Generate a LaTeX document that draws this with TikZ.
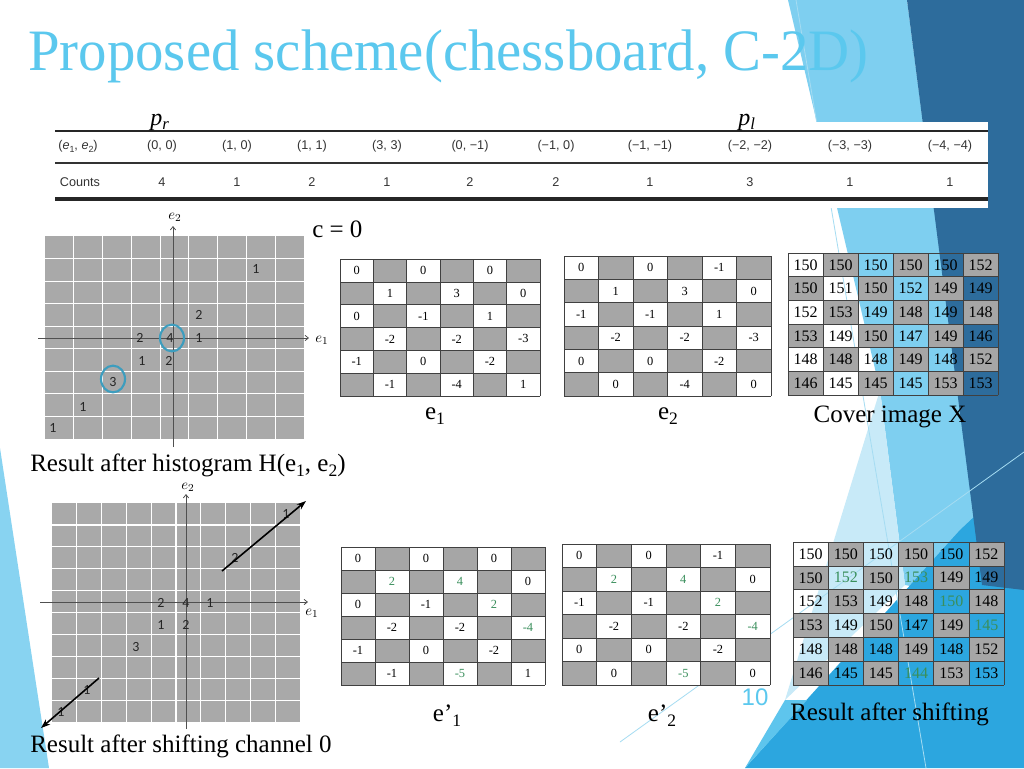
\documentclass[tikz,border=0pt]{standalone}
\usepackage{fontspec}
\setmainfont{Liberation Serif}
\newfontfamily\calib{Carlito}
\newfontfamily\arl{Liberation Sans}
\usetikzlibrary{arrows.meta,shapes.geometric}
\definecolor{ttl}{HTML}{5BC8EE}
\definecolor{cellgray}{HTML}{A6A6A6}
\definecolor{histgray}{HTML}{A9A9A9}
\definecolor{gr}{HTML}{3A8F5C}
\definecolor{circ}{HTML}{3D9DBE}
\definecolor{bgL}{HTML}{7ECFF0}
\definecolor{bgVL}{HTML}{C8EAF8}
\definecolor{bgM}{HTML}{2CA6DF}
\definecolor{bgLtwo}{HTML}{5EC5ED}
\definecolor{bgD}{HTML}{2D6C9C}
\definecolor{bgS}{HTML}{88D3F1}
\definecolor{bgLine}{HTML}{A5DCF2}
\definecolor{tabtxt}{HTML}{333333}
\definecolor{axc}{HTML}{505050}
\newcommand\sbs[1]{\raisebox{-0.45ex}{\scalebox{0.7}{#1}}}
\newcommand\G[1]{\textcolor{gr}{#1}}
\tikzset{
  gline/.style={draw=black!75,line width=0.5pt},
  enum/.style={font=\fontsize{9.3}{9.3}\selectfont,inner sep=0pt},
  xnum/.style={font=\fontsize{12}{12}\selectfont,inner sep=0pt},
  hnum/.style={font=\calib\fontsize{10.5}{10.5}\selectfont,inner sep=0pt,text=black!85},
  hline/.style={draw=white,line width=0.9pt},
  axis/.style={draw=axc,line width=0.6pt,-{Straight Barb[length=2.5pt,width=4pt]}},
  capt/.style={font=\fontsize{18.75}{20}\selectfont,inner sep=0pt},
  tab/.style={font=\arl\fontsize{9.5}{10}\selectfont,text=tabtxt,inner sep=0pt},
  ring/.style={draw=circ,line width=1.6pt,ellipse,minimum width=18pt,minimum height=20pt,inner sep=0pt},
  shiftarrow/.style={draw=black,line width=1.2pt,-{Stealth[length=7pt,width=5pt]}},
  axlab/.style={font=\fontsize{11}{11}\selectfont,inner sep=0pt},
}
\newcommand\egrid[6]{%
  \fill[white] (#2,#3) rectangle (#4,#5);
  \foreach \r in {0,...,5}{\foreach \c in {0,...,5}{%
    \pgfmathtruncatemacro\pty{mod(\r+\c,2)}%
    \ifnum\pty=1 \fill[cellgray] ({#2+\c*(#4-#2)/6},{#3+\r*(#5-#3)/6}) rectangle ({#2+(\c+1)*(#4-#2)/6},{#3+(\r+1)*(#5-#3)/6});\fi
  }}
  \foreach \i in {0,...,6}{%
    \draw[gline] ({#2+\i*(#4-#2)/6},#3) -- ({#2+\i*(#4-#2)/6},#5);
    \draw[gline] (#2,{#3+\i*(#5-#3)/6}) -- (#4,{#3+\i*(#5-#3)/6});
  }
  \foreach \row [count=\r from 0] in {#6}{%
    \foreach \v [count=\k from 0] in \row {%
      \pgfmathtruncatemacro\cc{2*\k+mod(\r,2)}%
      \node[enum] (#1-\r-\cc) at ({#2+(\cc+0.5)*(#4-#2)/6},{#3+(\r+0.5)*(#5-#3)/6}) {\v};
    }}
}
\newcommand\xgrid[6]{%
  \foreach \r in {0,...,5}{\foreach \c in {0,...,5}{%
    \pgfmathtruncatemacro\pty{mod(\r+\c,2)}%
    \ifnum\pty=1 \fill[cellgray] ({#2+\c*(#4-#2)/6},{#3+\r*(#5-#3)/6}) rectangle ({#2+(\c+1)*(#4-#2)/6},{#3+(\r+1)*(#5-#3)/6});\fi
  }}
  \foreach \i in {0,...,6}{%
    \draw[gline] ({#2+\i*(#4-#2)/6},#3) -- ({#2+\i*(#4-#2)/6},#5);
    \draw[gline] (#2,{#3+\i*(#5-#3)/6}) -- (#4,{#3+\i*(#5-#3)/6});
  }
  \foreach \row [count=\r from 0] in {#6}{%
    \foreach \v [count=\c from 0] in \row {%
      \node[xnum] (#1-\r-\c) at ({#2+(\c+0.5)*(#4-#2)/6},{#3+(\r+0.5)*(#5-#3)/6}) {\v};
    }}
}
\begin{document}
\begin{tikzpicture}[x=0.75pt,y=-0.75pt]
\useasboundingbox (0,0) rectangle (1024,768);
\fill[white] (0,0) rectangle (1024,768);
% background decoration
\fill[bgS] (0,448) -- (35,677) -- (49,768) -- (0,768) -- cycle;
\fill[bgL] (788,0) -- (907,0) -- (985,600) -- (905,585) -- (880,390) -- cycle;
\fill[bgVL] (880,390) -- (905,585) -- (785,700) -- cycle;
\fill[bgM] (960,530) -- (1024,470) -- (1024,768) -- (745,768) -- cycle;
\fill[bgLtwo] (785,700) -- (807,700) -- (745,768) -- cycle;
\fill[bgD] (907,0) -- (1024,0) -- (1024,590) -- (982,585) -- cycle;
\draw[bgLine,line width=0.6pt] (796,0) -- (926,768);
\draw[bgLine,line width=0.6pt] (620,742) -- (1024,452);
% title
\node[anchor=base west,text=ttl,font=\fontsize{44}{44}\selectfont,inner sep=0pt] (title) at (28,70) {\scalebox{0.968}[1]{Proposed scheme(chessboard, C-2D)}};
% table
\fill[white] (55,122) rectangle (988,208);
\coordinate (tl1) at (55,131); \coordinate (tr1) at (988,131);
\coordinate (tl2) at (55,163); \coordinate (tr2) at (988,163);
\coordinate (tl3) at (55,199); \coordinate (tr3) at (988,199);
\draw[line width=2pt,black!85] (tl1) -- (tr1);
\draw[line width=0.8pt,black!80] (tl2) -- (tr2);
\draw[line width=2.4pt,black!85] (tl3) -- (tr3);
\node[anchor=base west,font=\itshape\fontsize{18}{18}\selectfont,inner sep=0pt] (pr) at (150,125) {p\sbs{r}};
\node[anchor=base west,font=\itshape\fontsize{18}{18}\selectfont,inner sep=0pt] (pl) at (738,125) {p\sbs{l}};
\node[tab] (hd0) at (78,146) {(\textit{e}\sbs{1}, \textit{e}\sbs{2})};
\foreach \x/\t [count=\i] in {162/{(0, 0)},237/{(1, 0)},312/{(1, 1)},387/{(3, 3)},470/{(0, −1)},556/{(−1, 0)},650/{(−1, −1)},750/{(−2, −2)},850/{(−3, −3)},950/{(−4, −4)}}{
  \node[tab] (hd\i) at (\x,146) {\t};
}
\node[tab] (ct0) at (80,182) {Counts};
\foreach \x/\t [count=\i] in {162/4,237/1,312/2,387/1,470/2,556/2,650/1,750/3,850/1,950/1}{
  \node[tab] (ct\i) at (\x,182) {\t};
}
% top histogram
\fill[histgray] (45,236) rectangle (304,439);
\foreach \i in {1,...,8}{
  \draw[hline] ({45+\i*259/9},236) -- ({45+\i*259/9},439);
  \draw[hline] (45,{236+\i*203/9}) -- (304,{236+\i*203/9});
}
\coordinate (ha1) at (38,338); \coordinate (hb1) at (309,338);
\coordinate (ha2) at (173,447); \coordinate (hb2) at (173,226);
\draw[axis] (ha1) -- (hb1);
\draw[axis] (ha2) -- (hb2);
\node[axlab] (he1) at (322,340) {$e_1$};
\node[axlab] (he2) at (175,217) {$e_2$};
\node[hnum] (t1) at (256,269) {1};
\node[hnum] (t2) at (199,315) {2};
\node[hnum] (t3) at (140,338) {2};
\node[hnum] (t4) at (170,338) {4};
\node[hnum] (t5) at (199,338) {1};
\node[hnum] (t6) at (142,361) {1};
\node[hnum] (t7) at (169,361) {2};
\node[hnum] (t8) at (113,382) {3};
\node[hnum] (t9) at (83,407) {1};
\node[hnum] (t10) at (53,428) {1};
\node[ring] (r4) at (172,338) {};
\node[ring] (r3) at (113,379) {};
\node[capt,anchor=base west] (cap1) at (30,471) {Result after histogram H(e\sbs{1}, e\sbs{2})};
\node[capt,anchor=base west] (c0) at (312,237) {c = 0};
% top grids
\egrid{ea}{340}{259}{540}{396}{{0,0,0},{1,3,0},{0,-1,1},{-2,-2,-3},{-1,0,-2},{-1,-4,1}}
\egrid{eb}{564}{256}{771}{396}{{0,0,-1},{1,3,0},{-1,-1,1},{-2,-2,-3},{0,0,-2},{0,-4,0}}
\xgrid{xa}{788}{253}{998}{395}{{150,150,150,150,150,152},{150,151,150,152,149,149},{152,153,149,148,149,148},{153,149,150,147,149,146},{148,148,148,149,148,152},{146,145,145,145,153,153}}
\node[capt,anchor=base] (la1) at (435,419) {e\sbs{1}};
\node[capt,anchor=base] (la2) at (668,419) {e\sbs{2}};
\node[capt,anchor=base] (la3) at (890,422) {Cover image X};
% bottom histogram
\fill[histgray] (52,503) rectangle (300,722);
\foreach \i in {1,...,9}{
  \draw[hline] ({52+\i*248/10},503) -- ({52+\i*248/10},722);
  \draw[hline] (52,{503+\i*219/10}) -- (300,{503+\i*219/10});
}
\coordinate (ba1) at (40,602); \coordinate (bb1) at (308,602);
\coordinate (ba2) at (186,729); \coordinate (bb2) at (186,494);
\draw[axis] (ba1) -- (bb1);
\draw[axis] (ba2) -- (bb2);
\node[axlab] (be1) at (312,613) {$e_1$};
\node[axlab] (be2) at (188,487) {$e_2$};
\node[hnum] (s1) at (161,603) {2};
\node[hnum] (s2) at (186,603) {4};
\node[hnum] (s3) at (210,603) {1};
\node[hnum] (s4) at (161,625) {1};
\node[hnum] (s5) at (186,625) {2};
\node[hnum] (s6) at (136,647) {3};
\node[hnum] (s7) at (235,558) {2};
\node[hnum] (s8) at (286,514) {1};
\node[hnum] (s9) at (87,690) {1};
\node[hnum] (s10) at (61,712) {1};
\coordinate (ua) at (222,571); \coordinate (ub) at (306,501);
\coordinate (da) at (99,678); \coordinate (db) at (41,728);
\draw[shiftarrow] (ua) -- (ub);
\draw[shiftarrow] (da) -- (db);
\node[capt,anchor=base west] (cap2) at (30,752) {Result after shifting channel 0};
% bottom grids
\egrid{ec}{341}{547}{545}{685}{{0,0,0},{\G{2},\G{4},0},{0,-1,\G{2}},{-2,-2,\G{-4}},{-1,0,-2},{-1,\G{-5},1}}
\egrid{ed}{562}{544}{770}{685}{{0,0,-1},{\G{2},\G{4},0},{-1,-1,\G{2}},{-2,-2,\G{-4}},{0,0,-2},{0,\G{-5},0}}
\xgrid{xb}{793}{542}{1004}{685}{{150,150,150,150,150,152},{150,\G{152},150,\G{153},149,149},{152,153,149,148,\G{150},148},{153,149,150,147,149,\G{145}},{148,148,148,149,148,152},{146,145,145,\G{144},153,153}}
\node[capt,anchor=base] (lb1) at (447,721) {e’\sbs{1}};
\node[capt,anchor=base] (lb2) at (662,721) {e’\sbs{2}};
\node[capt,anchor=base west] (lb3) at (790,720) {Result after shifting};
\node[font=\arl\fontsize{18}{18}\selectfont,text=ttl,inner sep=0pt] (pg) at (755,697) {10};
\end{tikzpicture}
\end{document}
